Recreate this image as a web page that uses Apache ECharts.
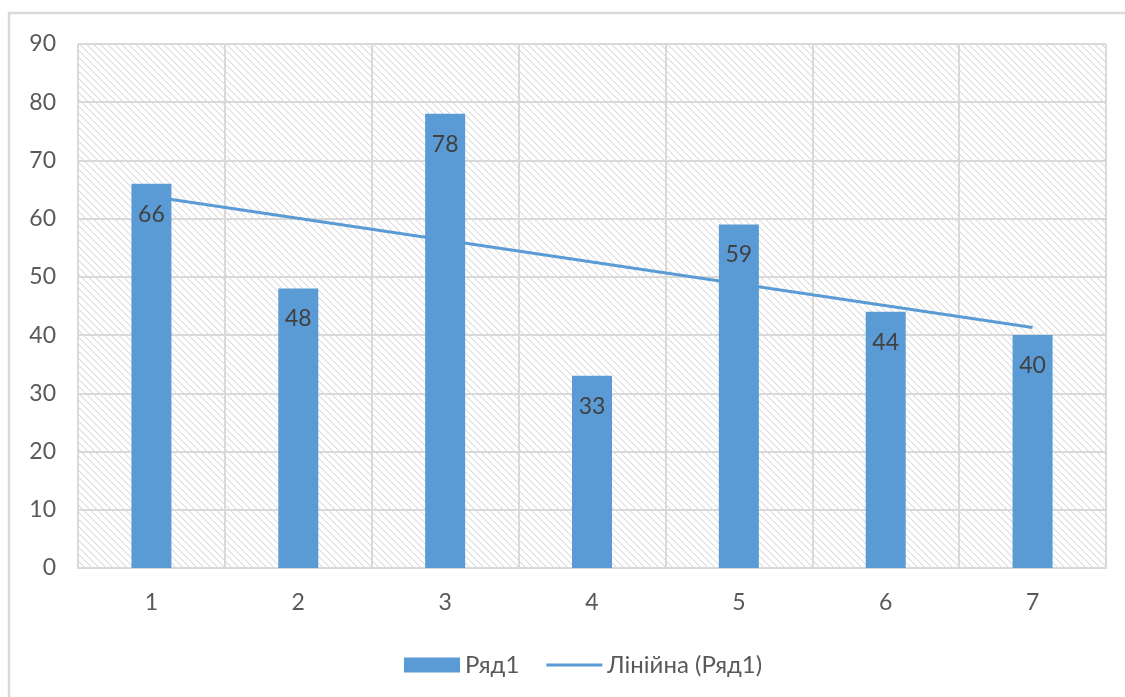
<!DOCTYPE html>
<html>
<head>
<meta charset="utf-8">
<script src="https://cdn.jsdelivr.net/npm/echarts@6/dist/echarts.min.js"></script>
<style>
  html, body { margin: 0; padding: 0; background: #fff; }
  #chart { width: 1125px; height: 697px; }
</style>
</head>
<body>
<div id="chart"></div>
<script>
// Category labels along the horizontal axis
const categories = ['1', '2', '3', '4', '5', '6', '7'];
// Column values (Ряд1)
const seriesValues = [66, 48, 78, 33, 59, 44, 40];
// Linear trend line: value at the first and at the last category
const trendEnds = [63.8, 41.3];
// Value axis ticks
const yTicks = [0, 10, 20, 30, 40, 50, 60, 70, 80, 90];

const seriesName = 'Ряд1';
const trendName = 'Лінійна (Ряд1)';

const FONT = 'Lato, "Noto Sans", sans-serif';
const TEXT = '#595959';
const GRID = '#d9d9d9';
const BLUE = '#5b9bd5';

// Diagonal hatch tile for the plot area
function hatchTile() {
  const n = 7;
  const c = document.createElement('canvas');
  c.width = n; c.height = n;
  const ctx = c.getContext('2d');
  ctx.fillStyle = '#ffffff';
  ctx.fillRect(0, 0, n, n);
  for (let y = 0; y < n; y++) {
    ctx.fillStyle = '#dcdcdc';
    ctx.fillRect(y % n, y, 1, 1);
    ctx.fillStyle = '#efefef';
    ctx.fillRect((y + 1) % n, y, 1, 1);
  }
  return c;
}

const chart = echarts.init(document.getElementById('chart'), null, { renderer: 'canvas' });

const trendData = [[categories[0], trendEnds[0]], [categories[categories.length - 1], trendEnds[1]]];

chart.setOption({
  animation: false,
  backgroundColor: '#ffffff',
  textStyle: { fontFamily: FONT },
  graphic: [{
    type: 'rect',
    shape: { x: 9, y: 13, width: 1200, height: 800 },
    style: { fill: 'none', stroke: GRID, lineWidth: 2.5 },
    silent: true,
    z: -10
  }],
  grid: {
    left: 78, right: 19, top: 44, bottom: 129,
    show: true,
    borderWidth: 0,
    backgroundColor: { image: hatchTile(), repeat: 'repeat' }
  },
  legend: {
    left: 399,
    top: 648,
    itemWidth: 56,
    itemHeight: 15,
    itemGap: 27,
    symbolKeepAspect: true,
    textStyle: { color: TEXT, fontSize: 24, fontFamily: FONT },
    data: [
      { name: seriesName, icon: 'rect' },
      { name: trendName, icon: 'path://M0,0h60v3.2h-60z' }
    ]
  },
  xAxis: {
    type: 'category',
    data: categories,
    boundaryGap: true,
    axisLine: { lineStyle: { color: GRID, width: 2 } },
    axisTick: { show: false },
    axisLabel: { color: TEXT, fontSize: 23, margin: 23, fontFamily: FONT },
    splitLine: { show: true, lineStyle: { color: GRID, width: 2 } }
  },
  yAxis: {
    type: 'value',
    min: yTicks[0],
    max: yTicks[yTicks.length - 1],
    interval: yTicks[1] - yTicks[0],
    axisLine: { show: false },
    axisTick: { show: false },
    axisLabel: { color: TEXT, fontSize: 23, margin: 22, fontFamily: FONT },
    splitLine: { show: true, lineStyle: { color: GRID, width: 2 } }
  },
  series: [
    {
      name: seriesName,
      type: 'bar',
      data: seriesValues,
      barWidth: 40,
      itemStyle: { color: BLUE },
      label: {
        show: true,
        position: 'insideTop',
        distance: 19,
        color: '#404040',
        fontSize: 23,
        fontFamily: FONT
      },
      z: 2
    },
    {
      name: trendName,
      type: 'line',
      data: trendData,
      symbol: 'none',
      showSymbol: false,
      lineStyle: { color: BLUE, width: 3 },
      itemStyle: { color: BLUE },
      z: 3
    }
  ]
});
</script>
</body>
</html>
